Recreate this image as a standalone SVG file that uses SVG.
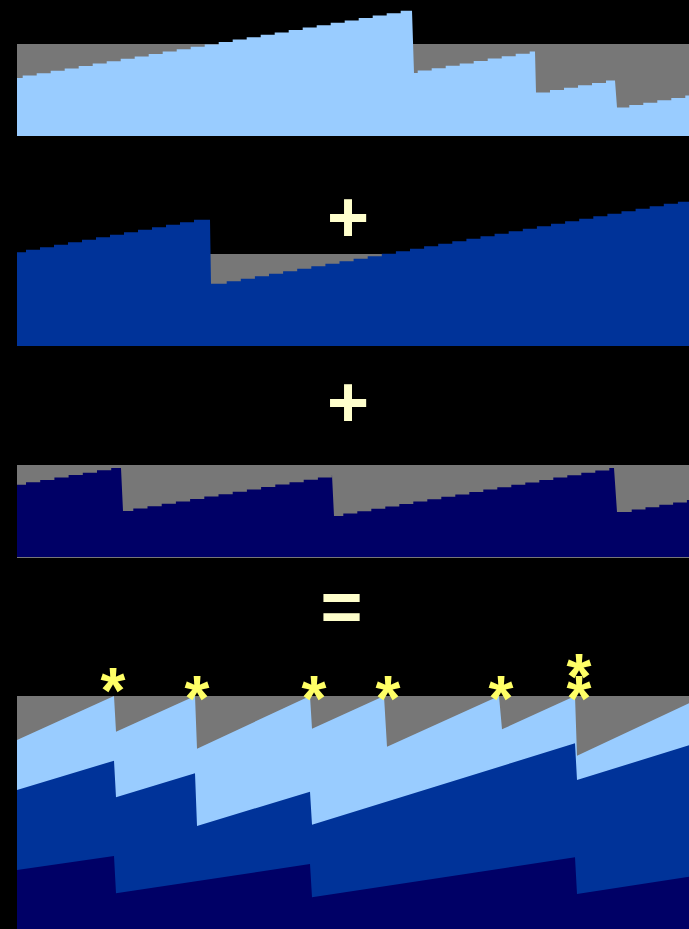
<svg xmlns="http://www.w3.org/2000/svg" width="689" height="929" viewBox="0 0 689 929">
<style>
.bg{fill:#000}
.gray{fill:#777777}
.lb{fill:#99CCFF}
.db{fill:#003399}
.nv{fill:#000066}
.op{fill:#FFFFCC;font-family:"Liberation Sans",Arial,sans-serif;font-weight:bold;text-anchor:middle}
.star{fill:#FFFF66;font-family:"Liberation Sans",Arial,sans-serif;font-weight:bold;font-size:64px;text-anchor:middle}
</style>
<rect class="bg" x="0" y="0" width="689" height="929"/>
<g id="panel1">
<rect class="gray" x="17" y="44" width="672" height="92"/>
<path class="lb" d="M17,136 V78 h5.7 v-2.4
h14 v-2.4 h14 v-2.4 h14 v-2.4 h14 v-2.4 h14 v-2.4 h14 v-2.4 h14 v-2.4 h14 v-2.4 h14 v-2.4
h14 v-2.4 h14 v-2.4 h14 v-2.4 h14 v-2.4 h14 v-2.4 h14 v-2.4 h14 v-2.4 h14 v-2.4 h14 v-2.4
h14 v-2.4 h14 v-2.4 h14 v-2.4 h14 v-2.4 h14 v-2.4 h14 v-2.4 h14 v-2.4 h14 v-2.4 h14 v-2.4
H412 L414,73 h3.7 v-2.4
h14 v-2.4 h14 v-2.4 h14 v-2.4 h14 v-2.4 h14 v-2.4 h14 v-2.4 h14 v-2.4 h14 v-2.4
H535 L536,92.5 h14 v-2.4
h14 v-2.4 h14 v-2.4 h14 v-2.4 h14 v-2.4
H615 L617,107.5 h12.3 v-2.4
h14 v-2.4 h14 v-2.4 h14 v-2.4 h14 v-2.4
H689 V136 Z"/>
</g>
<g id="plus1"><text class="op" x="348" y="242" font-size="72">+</text></g>
<g id="panel2">
<rect class="gray" x="17" y="254" width="672" height="92"/>
<path class="db" d="M17,346 V252.3 h9 v-2.5
h14 v-2.5 h14 v-2.5 h14 v-2.5 h14 v-2.5 h14 v-2.5 h14 v-2.5
h14 v-2.5 h14 v-2.5 h14 v-2.5 h14 v-2.5 h14 v-2.5 h14 v-2.5
H210 L211,283.7 h15.7 v-2.5
h14.1 v-2.5 h14.1 v-2.5 h14.1 v-2.5 h14.1 v-2.5 h14.1 v-2.5 h14.1 v-2.5 h14.1 v-2.5 h14.1 v-2.5
h14.1 v-2.5 h14.1 v-2.5 h14.1 v-2.5 h14.1 v-2.5 h14.1 v-2.5 h14.1 v-2.5 h14.1 v-2.5 h14.1 v-2.5
h14.1 v-2.5 h14.1 v-2.5 h14.1 v-2.5 h14.1 v-2.5 h14.1 v-2.5 h14.1 v-2.5 h14.1 v-2.5 h14.1 v-2.5
h14.1 v-2.5 h14.1 v-2.5 h14.1 v-2.5 h14.1 v-2.5 h14.1 v-2.5 h14.1 v-2.5 h14.1 v-2.5
h14.1 v-2
H689 V346 Z"/>
</g>
<g id="plus2"><text class="op" x="348" y="427" font-size="72">+</text></g>
<g id="panel3">
<rect class="gray" x="17" y="465" width="672" height="93"/>
<path class="nv" d="M17,557 V484.7 h9 v-2.4
h14.2 v-2.4 h14.2 v-2.4 h14.2 v-2.4 h14.2 v-2.4 h14.2 v-2.4 h14.2 v-2.4
H121 L123,511 h10.3 v-2.4
h14.2 v-2.4 h14.2 v-2.4 h14.2 v-2.4 h14.2 v-2.4 h14.2 v-2.4 h14.2 v-2.4 h14.2 v-2.4
h14.2 v-2.4 h14.2 v-2.4 h14.2 v-2.4 h14.2 v-2.4 h14.2 v-2.4 h14.2 v-2.4 h14 v-2.4
H332 L334,516 h9.3 v-2.4
h14 v-2.4 h14 v-2.4 h14 v-2.4 h14 v-2.4 h14 v-2.4 h14 v-2.4 h14 v-2.4 h14 v-2.4 h14 v-2.4 h14 v-2.4
h14 v-2.4 h14 v-2.4 h14 v-2.4 h14 v-2.4 h14 v-2.4 h14 v-2.4 h14 v-2.4 h14 v-2.4 h14 v-2.4
H614 L617,512 h14.7 v-2.4
h13.8 v-2.4 h13.8 v-2.4 h13.8 v-2.4 h13.8 v-2.4
H689 V557 Z"/>
</g>
<g id="equals"><text class="op" x="341.5" y="631" font-size="72">=</text></g>
<g id="panel4">
<rect class="gray" x="17" y="696" width="672" height="233"/>
<path class="lb" d="M17,929 V740 L114,696 L116,731.7 L195,696 L197,748.7 L310,696 L312,728.7 L384,696 L387,746.7 L499,696 L502,729.3 L575,696 L577,755.7 L689,703.3 V929 Z"/>
<path class="db" d="M17,929 V790 L114,760.7 L116,797.3 L195,773.3 L197,826 L310,791.7 L312,824.7 L575,743.3 L577,780 L689,745.3 V929 Z"/>
<path class="nv" d="M17,929 V870 L114,856 L116,893.3 L310,864 L312,897.3 L575,857.3 L577,894 L689,876.7 V929 Z"/>
</g>
<g id="stars">
<text class="star" x="113" y="713">*</text>
<text class="star" x="197" y="721">*</text>
<text class="star" x="314" y="721">*</text>
<text class="star" x="388" y="721">*</text>
<text class="star" x="501" y="721">*</text>
<text class="star"><tspan x="579" y="699">*</tspan><tspan x="579" y="721">*</tspan></text>
</g>
</svg>
